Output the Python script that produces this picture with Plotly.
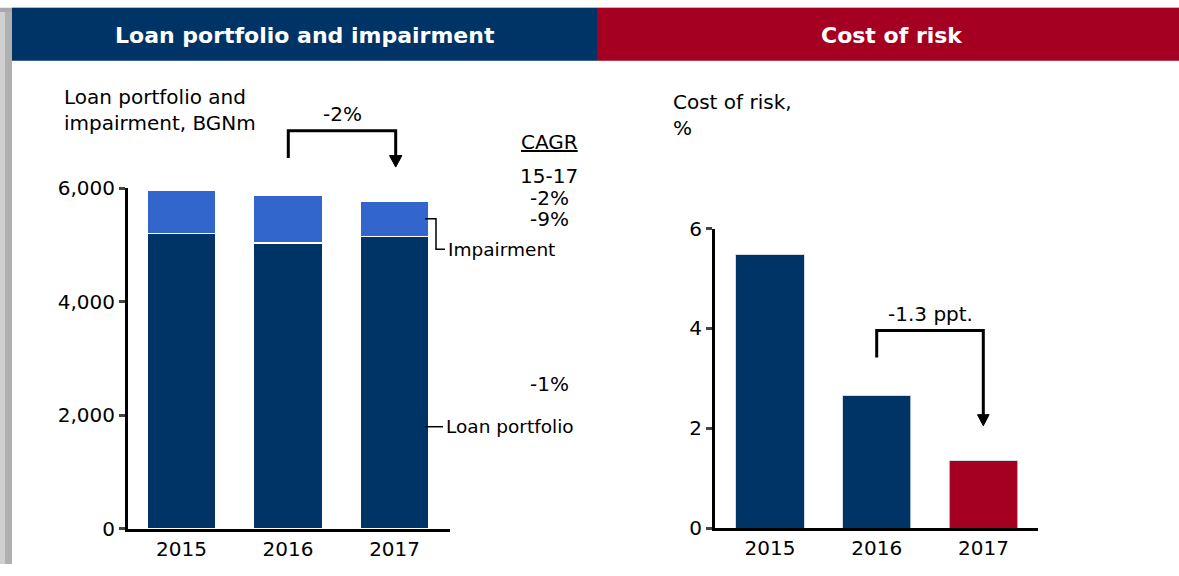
import plotly.graph_objects as go

years = ['2015', '2016', '2017']
loan_portfolio = [5205, 5030, 5145]
impairment = [750, 849, 620]
cagr_labels = ['15-17', '-2%', '-9%']
cagr_loan = '-1%'
loan_change = '-2%'

cost_of_risk = [5.48, 2.65, 1.35]
cost_labels = ['5.5', '2.7', '1.4']
risk_change = '-1.3 ppt.'

navy = '#003366'
light_blue = '#3366CC'
red = '#A50021'
FONT = 'DejaVu Sans'

W, H = 1179, 576
# the captured page comes back squeezed vertically; place things so they land where wanted
SY, OY = 0.956, 13.3


def px(x):
    return x / W


def py(y):
    return 1 - ((y - OY) / SY) / H


totals = [a + b for a, b in zip(loan_portfolio, impairment)]

fig = go.Figure()

# left: stacked loan portfolio + impairment
fig.add_trace(go.Bar(x=years, y=loan_portfolio, marker_color=navy, width=0.65,
                     marker_line=dict(color='white', width=1.5),
                     xaxis='x', yaxis='y', name='Loan portfolio'))
fig.add_trace(go.Bar(x=years, y=impairment, marker_color=light_blue, width=0.65,
                     marker_line=dict(color='white', width=1.5),
                     xaxis='x', yaxis='y', name='Impairment'))

# right: cost of risk
fig.add_trace(go.Bar(x=years, y=cost_of_risk, marker_color=[navy, navy, red], width=0.64,
                     marker_line=dict(color='rgba(200,210,225,0.8)', width=1),
                     xaxis='x2', yaxis='y2', name='Cost of risk'))


def note(x, y, text, size=20, xanchor='center', yanchor='middle', **kw):
    return dict(x=x, y=y, xref='paper', yref='paper', text=text, showarrow=False,
                xanchor=xanchor, yanchor=yanchor, font=dict(size=size, **kw.pop('font', {})), **kw)


annotations = []
for yr, t in zip(years, totals):
    annotations.append(dict(x=yr, y=t, xref='x', yref='y', text=f'{t:,}', showarrow=False,
                            xanchor='center', yanchor='bottom', yshift=5, font=dict(size=20)))
for yr, v, lab in zip(years, cost_of_risk, cost_labels):
    annotations.append(dict(x=yr, y=v, xref='x2', yref='y2', text=lab, showarrow=False,
                            xanchor='center', yanchor='bottom', yshift=5, font=dict(size=20)))

# header titles
annotations.append(note(px(305), py(37), '<b>Loan portfolio and impairment</b>', size=22, font=dict(color='white')))
annotations.append(note(px(892), py(37), '<b>Cost of risk</b>', size=22, font=dict(color='white')))

# axis titles
annotations.append(note(px(62), py(84), 'Loan portfolio and<br>impairment, BGNm', xanchor='left', yanchor='top', align='left'))
annotations.append(note(px(671), py(89), 'Cost of risk,<br>%', xanchor='left', yanchor='top', align='left'))

# change labels
annotations.append(note(px(342), py(115), loan_change))
annotations.append(note(px(930), py(315), risk_change))

# CAGR block
annotations.append(note(px(549), py(143), '<u>CAGR</u>'))
for lab, yy in zip(cagr_labels, [177, 199, 220]):
    annotations.append(note(px(549), py(yy), lab))
annotations.append(note(px(549), py(384), cagr_loan))

# series labels
annotations.append(note(px(446), py(250), 'Impairment', size=18.5, xanchor='left'))
annotations.append(note(px(444), py(427), 'Loan portfolio', size=18.5, xanchor='left'))


def path(points, close=False):
    s = 'M ' + ' L '.join(f'{px(a):.5f},{py(b):.5f}' for a, b in points)
    return s + (' Z' if close else '')


shapes = [
    # frame
    dict(type='rect', xref='paper', yref='paper', x0=0, x1=1, y0=py(9), y1=1, fillcolor='#a9a9a9', line_width=0, layer='below'),
    dict(type='rect', xref='paper', yref='paper', x0=0, x1=px(5), y0=0, y1=1, fillcolor='#d0d0d0', line_width=0, layer='below'),
    dict(type='rect', xref='paper', yref='paper', x0=px(5), x1=px(12), y0=0, y1=1, fillcolor='#b0b0b0', line_width=0, layer='below'),
    # header bands
    dict(type='rect', xref='paper', yref='paper', x0=px(12), x1=px(597), y0=py(62), y1=py(9), fillcolor=navy, line_width=0, layer='below'),
    dict(type='rect', xref='paper', yref='paper', x0=px(597), x1=1, y0=py(62), y1=py(9), fillcolor=red, line_width=0, layer='below'),
    # brackets
    dict(type='path', xref='paper', yref='paper', path=path([(288.3, 159), (288.3, 131.7), (395.7, 131.7), (395.7, 158)]),
         line=dict(color='black', width=3)),
    dict(type='path', xref='paper', yref='paper', path=path([(389.5, 156.5), (401.9, 156.5), (395.7, 168)], close=True),
         fillcolor='black', line=dict(color='black', width=1)),
    dict(type='path', xref='paper', yref='paper', path=path([(876.7, 358), (876.7, 331), (983.3, 331), (983.3, 416)]),
         line=dict(color='black', width=3)),
    dict(type='path', xref='paper', yref='paper', path=path([(977.5, 415), (989.1, 415), (983.3, 426)], close=True),
         fillcolor='black', line=dict(color='black', width=1)),
    # label connectors
    dict(type='path', xref='paper', yref='paper', path=path([(425, 219.5), (436, 219.5), (436, 250), (445, 250)]),
         line=dict(color='black', width=1.5)),
    dict(type='path', xref='paper', yref='paper', path=path([(425, 427), (443, 427)]),
         line=dict(color='black', width=1.5)),
]

axis_common = dict(showgrid=False, zeroline=False, showline=True, linecolor='black', linewidth=3,
                   tickfont=dict(size=20, color='black'), fixedrange=True)

fig.update_layout(
    width=W, height=H,
    margin=dict(l=0, r=0, t=0, b=0),
    paper_bgcolor='white', plot_bgcolor='white',
    barmode='stack', showlegend=False,
    font=dict(family=FONT, color='black', size=20),
    xaxis=dict(domain=[px(128), px(450)], range=[-0.502, 2.52], type='category', ticks='', anchor='y', **axis_common),
    yaxis=dict(domain=[py(529), py(189)], range=[0, 6000], tickvals=[0, 2000, 4000, 6000], tickformat=',',
               ticks='outside', ticklen=6, tickwidth=3, anchor='x', **axis_common),
    xaxis2=dict(domain=[px(715), px(1038)], range=[-0.515, 2.51], type='category', ticks='', anchor='y2', **axis_common),
    yaxis2=dict(domain=[py(528.3), py(229.3)], range=[0, 6], tickvals=[0, 2, 4, 6],
                ticks='outside', ticklen=6, tickwidth=3, anchor='x2', **axis_common),
    annotations=annotations,
    shapes=shapes,
)

# pin the figure to the window's corner (no page margin, nothing to scroll)
pin = ("document.body.style.margin='0';document.body.style.overflow='hidden';"
       "document.documentElement.style.background="
       "'linear-gradient(to right, #b8b8b8 12px, transparent 12px), linear-gradient(to bottom, #b0b0b0 14px, #ffffff 14px)';"
       "var d=document.getElementById('{plot_id}');"
       "d.style.position='fixed';d.style.top='0px';d.style.left='0px';")
fig.write_html('out.html', config={'displayModeBar': False}, post_script=pin)
